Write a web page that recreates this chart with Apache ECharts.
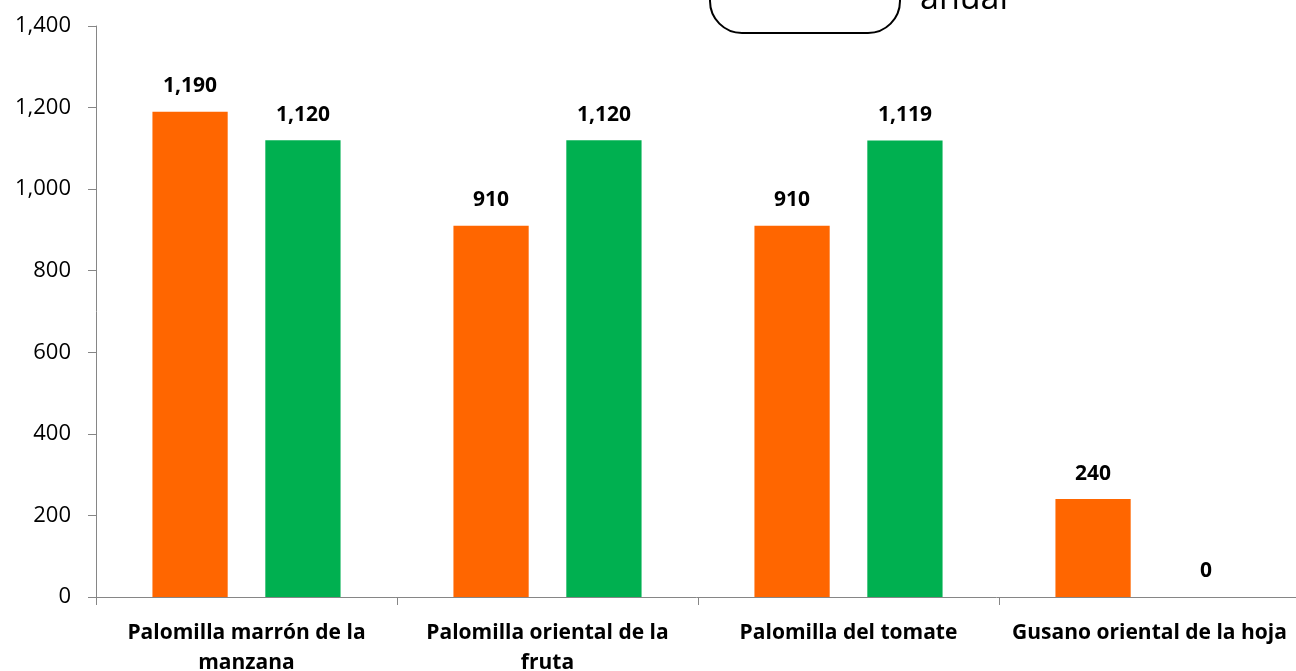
<!DOCTYPE html>
<html><head><meta charset="utf-8">
<script src="https://cdn.jsdelivr.net/npm/echarts@6/dist/echarts.min.js"></script>
<style>html,body{margin:0;padding:0;background:#fff}#c{width:1296px;height:671px}</style>
</head><body><div id="c"></div>
<script>
const categories = ['Palomilla marrón de la\nmanzana', 'Palomilla oriental de la\nfruta', 'Palomilla del tomate', 'Gusano oriental de la hoja'];
const seriesA = [1190, 910, 910, 240];
const seriesB = [1120, 1120, 1119, 0];
const yTicks = { min: 0, max: 1400, interval: 200 };

const fmt = v => v.toLocaleString('en-US');
const chart = echarts.init(document.getElementById('c'));
const lbl = { show: true, position: 'top', distance: 15, fontFamily: 'Open Sans', fontWeight: 'bold', fontSize: 21, color: '#000', formatter: p => fmt(p.value) };
chart.setOption({
  animation: false,
  grid: { left: 96, right: -4, top: 26, bottom: 74, outerBoundsMode: 'none', containLabel: false },
  xAxis: {
    type: 'category', data: categories,
    axisLine: { lineStyle: { color: '#868686' } },
    axisTick: { show: true, length: 8, lineStyle: { color: '#868686' } },
    axisLabel: { margin: 21, fontFamily: 'Open Sans', fontWeight: 'bold', fontSize: 21, lineHeight: 30, color: '#000', interval: 0 }
  },
  yAxis: {
    type: 'value', min: yTicks.min, max: yTicks.max, interval: yTicks.interval,
    axisLine: { show: true, lineStyle: { color: '#868686' } },
    axisTick: { show: true, length: 8, lineStyle: { color: '#868686' } },
    splitLine: { show: false },
    axisLabel: { margin: 25, fontFamily: 'Open Sans', fontSize: 22, color: '#000', formatter: v => fmt(v) }
  },
  series: [
    { type: 'bar', data: seriesA, barWidth: '25%', barGap: '50%', itemStyle: { color: '#FF6600' }, label: lbl },
    { type: 'bar', data: seriesB, barWidth: '25%', barGap: '50%', itemStyle: { color: '#00B050' }, label: lbl }
  ],
  graphic: [
    { type: 'rect', shape: { x: 710, y: -60, width: 190, height: 93, r: 32 }, style: { fill: '#fff', stroke: '#000', lineWidth: 2 } },
    { type: 'text', left: 920, top: -18, style: { text: 'anual', font: '34px "Open Sans"', fill: '#000' } }
  ]
});
</script></body></html>
